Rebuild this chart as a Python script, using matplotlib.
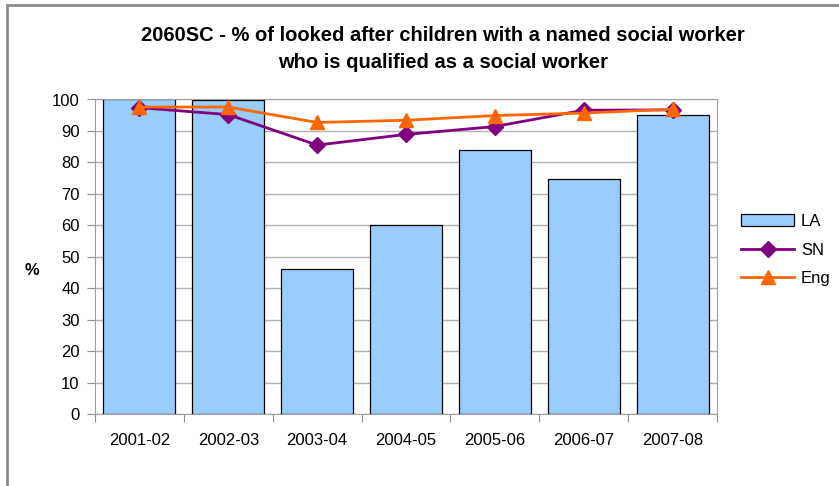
# Recreate the 2060SC looked-after children chart

import matplotlib.pyplot as plt
from matplotlib.patches import Rectangle
import numpy as np

plt.rcParams['font.family'] = ['Liberation Sans', 'DejaVu Sans']

# Data
years = ['2001-02', '2002-03', '2003-04', '2004-05', '2005-06', '2006-07', '2007-08']
la = [100, 99.7, 46.2, 60.1, 84.1, 74.6, 95.0]
sn = [97.4, 95.2, 85.5, 88.9, 91.4, 96.6, 96.7]
eng = [97.6, 97.6, 92.7, 93.4, 94.9, 95.7, 96.9]


def main():
    fig = plt.figure(figsize=(8.39, 4.86), dpi=100)

    # Outer chart border (left and top visible, rest runs off the image)
    fig.patches.append(Rectangle((7 / 839, -0.1), 1.2, 1 - 5 / 486 + 0.1,
                                 transform=fig.transFigure, fill=False,
                                 edgecolor='#8c8c8c', linewidth=2))

    ax = fig.add_axes([95 / 839, 1 - 414 / 486, 622 / 839, 314.5 / 486])
    x = np.arange(len(years))

    bars = ax.bar(x, la, width=0.81, color='#99CCFF', edgecolor='black',
                  linewidth=0.9, label='LA', zorder=2)
    l_sn, = ax.plot(x, sn, color='#800080', linewidth=2, marker='D',
                    markersize=8, label='SN', zorder=3)
    l_eng, = ax.plot(x, eng, color='#FF6600', linewidth=2, marker='^',
                     markersize=10, label='Eng', zorder=4)

    ax.set_xlim(-0.5, len(years) - 0.5)
    ax.set_ylim(0, 100)
    ax.set_yticks(range(0, 101, 10))
    ax.yaxis.grid(True, color='#b0b0b0', linewidth=1, zorder=0)
    ax.set_axisbelow(True)

    # x ticks sit between categories, labels at centres
    ax.set_xticks(np.arange(-0.5, len(years), 1))
    ax.set_xticklabels([])
    ax.set_xticks(x, minor=True)
    ax.set_xticklabels(years, minor=True)
    ax.tick_params(axis='x', which='minor', length=0, pad=14, labelsize=12)
    ax.tick_params(axis='x', which='major', length=6, color='#909090')
    ax.tick_params(axis='y', length=6, color='#909090', labelsize=12, pad=5)

    for side in ['left', 'bottom', 'right', 'top']:
        ax.spines[side].set_color('#a0a0a0')

    fig.text(32 / 839, 1 - 270 / 486, '%', fontsize=12, fontweight='bold',
             ha='center', va='center')

    fig.text(443 / 839, 1 - 49 / 486,
             '2060SC - % of looked after children with a named social worker\n'
             'who is qualified as a social worker',
             fontsize=14.5, fontweight='bold', ha='center', va='center',
             linespacing=1.55)

    fig.legend([bars, l_sn, l_eng], ['LA', 'SN', 'Eng'],
               loc='center left', bbox_to_anchor=(726 / 839, 1 - 250 / 486),
               frameon=False, fontsize=12, handlelength=3.2, labelspacing=0.8,
               handletextpad=0.4)

    plt.savefig('out.png', dpi=100)


if __name__ == '__main__':
    main()
